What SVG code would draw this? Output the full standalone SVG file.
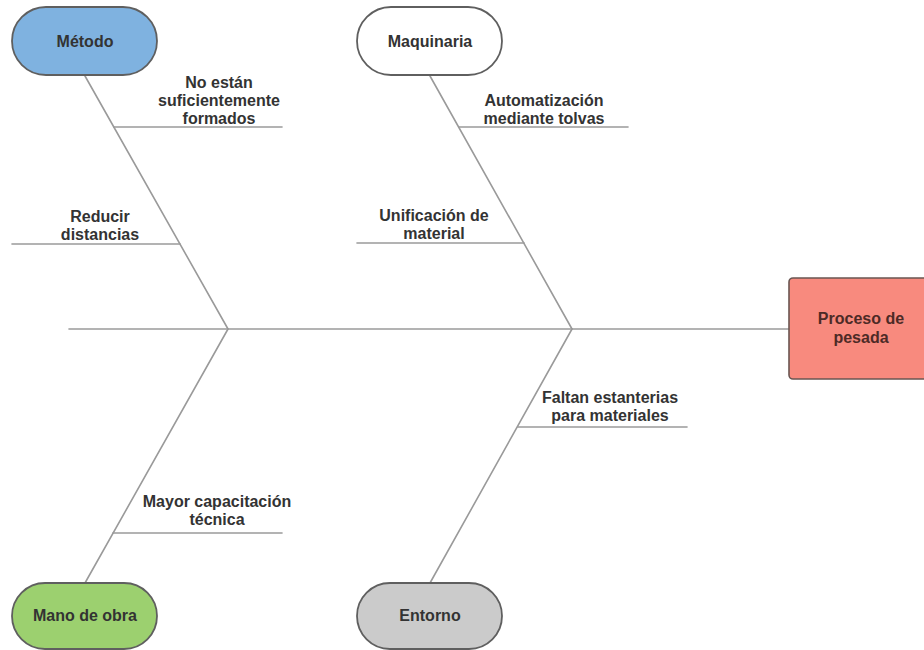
<svg xmlns="http://www.w3.org/2000/svg" width="924" height="650" viewBox="0 0 924 650">
  <style>
    .bone { stroke: #9a9a9a; stroke-width: 1.6; fill: none; stroke-linecap: round; }
    .pill { stroke: #5f5f5f; stroke-width: 1.8; }
    .lbl { font-family: "Liberation Sans", Arial, sans-serif; font-weight: bold; font-size: 16px; fill: #333333; text-anchor: middle; }
    .eff { fill: #4d2a26; }
  </style>
  <rect width="924" height="650" fill="#ffffff"/>

  <!-- spine, main bones and cause ticks -->
  <g id="connectors">
    <line class="bone" x1="69" y1="329" x2="789" y2="329"/>
    <line class="bone" x1="85" y1="76" x2="228" y2="329"/>
    <line class="bone" x1="430" y1="76" x2="572" y2="329"/>
    <line class="bone" x1="85" y1="583" x2="228" y2="329"/>
    <line class="bone" x1="430" y1="583" x2="572" y2="329"/>

    <line class="bone" x1="114" y1="127" x2="282" y2="127"/>
    <line class="bone" x1="12" y1="244" x2="180" y2="244"/>
    <line class="bone" x1="459" y1="127" x2="628" y2="127"/>
    <line class="bone" x1="357" y1="243" x2="524" y2="243"/>
    <line class="bone" x1="518" y1="427" x2="687" y2="427"/>
    <line class="bone" x1="113" y1="533" x2="282" y2="533"/>
  </g>

  <!-- category nodes -->
  <g id="metodo">
    <rect class="pill" x="12" y="7" width="145" height="68" rx="34" fill="#7fb2e0"/>
    <text class="lbl" x="85" y="47">Método</text>
  </g>
  <g id="maquinaria">
    <rect class="pill" x="357" y="7" width="145" height="68" rx="34" fill="#ffffff"/>
    <text class="lbl" x="430" y="47">Maquinaria</text>
  </g>
  <g id="mano-de-obra">
    <rect class="pill" x="12" y="583" width="145" height="66" rx="33" fill="#9cd06f"/>
    <text class="lbl" x="85" y="621">Mano de obra</text>
  </g>
  <g id="entorno">
    <rect class="pill" x="357" y="583" width="145" height="66" rx="33" fill="#cbcbcb"/>
    <text class="lbl" x="430" y="621">Entorno</text>
  </g>

  <!-- effect -->
  <g id="proceso-de-pesada">
    <rect x="789" y="278" width="140" height="101" rx="4" fill="#f88a7e" stroke="#6a5652" stroke-width="1.6"/>
    <text class="lbl eff" x="861" y="324">Proceso de</text>
    <text class="lbl eff" x="861" y="343">pesada</text>
  </g>

  <!-- cause labels -->
  <g id="causa-formados">
    <text class="lbl" x="219" y="88">No están</text>
    <text class="lbl" x="219" y="106">suficientemente</text>
    <text class="lbl" x="219" y="124">formados</text>
  </g>
  <g id="causa-distancias">
    <text class="lbl" x="100" y="222">Reducir</text>
    <text class="lbl" x="100" y="240">distancias</text>
  </g>
  <g id="causa-tolvas">
    <text class="lbl" x="544" y="106">Automatización</text>
    <text class="lbl" x="544" y="124">mediante tolvas</text>
  </g>
  <g id="causa-unificacion">
    <text class="lbl" x="434" y="221">Unificación de</text>
    <text class="lbl" x="434" y="239">material</text>
  </g>
  <g id="causa-estanterias">
    <text class="lbl" x="610" y="403">Faltan estanterias</text>
    <text class="lbl" x="610" y="421">para materiales</text>
  </g>
  <g id="causa-capacitacion">
    <text class="lbl" x="217" y="507">Mayor capacitación</text>
    <text class="lbl" x="217" y="525">técnica</text>
  </g>
</svg>
